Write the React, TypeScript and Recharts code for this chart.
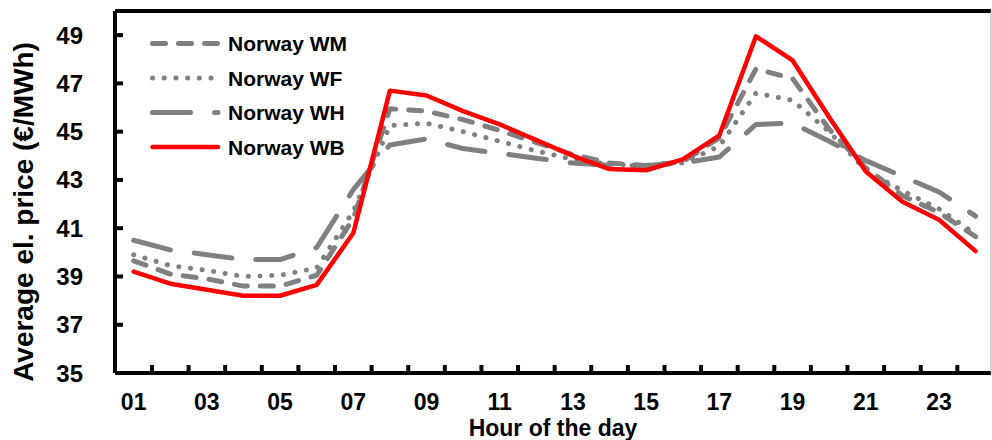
import { LineChart, Line, XAxis, YAxis, Label } from 'recharts'

// hour of the day, 01..24
const hours = [1, 2, 3, 4, 5, 6, 7, 8, 9, 10, 11, 12, 13, 14, 15, 16, 17, 18, 19, 20, 21, 22, 23, 24]
const hourLabels = [1, 3, 5, 7, 9, 11, 13, 15, 17, 19, 21, 23]
const hourMarks = [1.5, 2.5, 3.5, 4.5, 5.5, 6.5, 7.5, 8.5, 9.5, 10.5, 11.5, 12.5, 13.5, 14.5, 15.5, 16.5, 17.5, 18.5, 19.5, 20.5, 21.5, 22.5, 23.5]
const priceTicks = [35, 37, 39, 41, 43, 45, 47, 49]

const seriesNames = ['Norway WM', 'Norway WF', 'Norway WH', 'Norway WB']

// average el. price, EUR/MWh
const wm = [39.65, 39.1, 38.9, 38.6, 38.6, 39.05, 41.4, 45.95, 45.85, 45.5, 45.05, 44.55, 44.05, 43.7, 43.6, 43.75, 44.75, 47.6, 47.2, 45.1, 43.5, 42.35, 41.65, 40.65]
const wf = [39.9, 39.45, 39.25, 39.0, 39.05, 39.35, 41.7, 45.25, 45.35, 45.0, 44.6, 44.2, 43.85, 43.65, 43.6, 43.7, 44.4, 46.6, 46.3, 45.0, 43.4, 42.55, 41.8, 40.75]
const wh = [40.5, 40.1, 39.9, 39.7, 39.7, 40.2, 42.6, 44.45, 44.7, 44.3, 44.1, 43.9, 43.7, 43.6, 43.6, 43.7, 43.95, 45.3, 45.35, 44.6, 43.8, 43.15, 42.5, 41.5]
const wb = [39.2, 38.7, 38.45, 38.2, 38.2, 38.65, 40.8, 46.7, 46.5, 45.85, 45.3, 44.65, 44.0, 43.45, 43.4, 43.85, 44.85, 48.95, 47.95, 45.6, 43.35, 42.1, 41.35, 40.05]

const data = hours.map((h, i) => ({ hour: h, wm: wm[i], wf: wf[i], wh: wh[i], wb: wb[i] }))

const FONT = '"Liberation Sans", Arial, sans-serif'
const GRAY = '#808080'
const RED = '#ff0000'

const styles = [
  { key: 'wm', color: GRAY, width: 5, dash: '13 13' },
  { key: 'wf', color: GRAY, width: 5, dash: '0.1 11.6' },
  { key: 'wh', color: GRAY, width: 5, dash: '38 24' },
  { key: 'wb', color: RED, width: 4.5, dash: undefined },
]

const xTicks = [...hourLabels, ...hourMarks].sort((a, b) => a - b)

function HourTick({ x, y, payload }: any) {
  const v = payload.value
  if (Number.isInteger(v)) {
    return (
      <text x={x} y={y + 37} textAnchor="middle" fontSize={23} fontWeight="bold" fontFamily={FONT} fill="#000">
        {String(v).padStart(2, '0')}
      </text>
    )
  }
  return <line x1={x} x2={x} y1={y} y2={y - 8} stroke="#000" strokeWidth={4} />
}

function XTitle({ viewBox }: any) {
  return (
    <text x={viewBox.x + viewBox.width / 2} y={viewBox.y + 63} textAnchor="middle" fontSize={23} fontWeight="bold" fontFamily={FONT} fill="#000">
      Hour of the day
    </text>
  )
}

function YTitle({ viewBox }: any) {
  const cx = viewBox.x + 33
  const cy = viewBox.y + viewBox.height / 2 + 20
  return (
    <text transform={`rotate(-90 ${cx} ${cy})`} x={cx} y={cy} textAnchor="middle" fontSize={28} fontWeight="bold" fontFamily={FONT} fill="#000">
      Average el. price (€/MWh)
    </text>
  )
}

export default function App() {
  return (
    <div style={{ position: 'absolute', left: 0, top: 0, width: 992, height: 440, background: '#fff' }}>
      <LineChart width={992} height={440} data={data} margin={{ top: 0, right: 0, bottom: 10, left: 0 }}>
        <XAxis
          dataKey="hour"
          type="number"
          domain={[0.49, 24.42]}
          allowDataOverflow
          ticks={xTicks}
          interval={0}
          tick={<HourTick />}
          tickLine={false}
          tickSize={0}
          tickMargin={0}
          height={57}
          axisLine={{ stroke: '#000', strokeWidth: 4 }}
        >
          <Label content={<XTitle />} />
        </XAxis>
        <XAxis
          xAxisId="top"
          orientation="top"
          type="number"
          domain={[0.49, 24.42]}
          allowDataOverflow
          ticks={hourMarks}
          interval={0}
          tick={false}
          tickSize={-7}
          height={11}
          axisLine={{ stroke: '#000', strokeWidth: 4 }}
          tickLine={{ stroke: '#000', strokeWidth: 4 }}
        />
        <YAxis
          type="number"
          domain={[35, 50]}
          allowDataOverflow
          ticks={priceTicks}
          interval={0}
          width={115}
          tickSize={-8}
          tickMargin={40}
          tick={{ fontSize: 24, fontWeight: 'bold', fontFamily: FONT, fill: '#000' }}
          axisLine={{ stroke: '#000', strokeWidth: 4 }}
          tickLine={{ stroke: '#000', strokeWidth: 4 }}
        >
          <Label content={<YTitle />} />
        </YAxis>
        <YAxis
          yAxisId="right"
          orientation="right"
          type="number"
          domain={[35, 50]}
          allowDataOverflow
          ticks={priceTicks}
          interval={0}
          width={1}
          tick={false}
          tickSize={-6}
          axisLine={{ stroke: '#a6a6a6', strokeWidth: 1 }}
          tickLine={{ stroke: '#000', strokeWidth: 4 }}
        />
        {styles.map((s, i) => (
          <Line
            key={s.key}
            type="linear"
            dataKey={s.key}
            name={seriesNames[i]}
            stroke={s.color}
            strokeWidth={s.width}
            strokeDasharray={s.dash}
            strokeLinecap="round"
            strokeLinejoin="round"
            dot={false}
            activeDot={false}
            isAnimationActive={false}
          />
        ))}
      </LineChart>
      <svg width={400} height={170} style={{ position: 'absolute', left: 0, top: 0, pointerEvents: 'none' }}>
        {styles.map((s, i) => {
          const cy = 43.5 + i * 34.5
          return (
            <g key={s.key}>
              <line x1={152.5} x2={218} y1={cy} y2={cy} stroke={s.color} strokeWidth={s.width} strokeDasharray={s.dash} strokeLinecap="round" />
              <text x={228} y={cy + 7.5} fontSize={21} fontWeight="bold" fontFamily={FONT} fill="#000">
                {seriesNames[i]}
              </text>
            </g>
          )
        })}
      </svg>
    </div>
  )
}
